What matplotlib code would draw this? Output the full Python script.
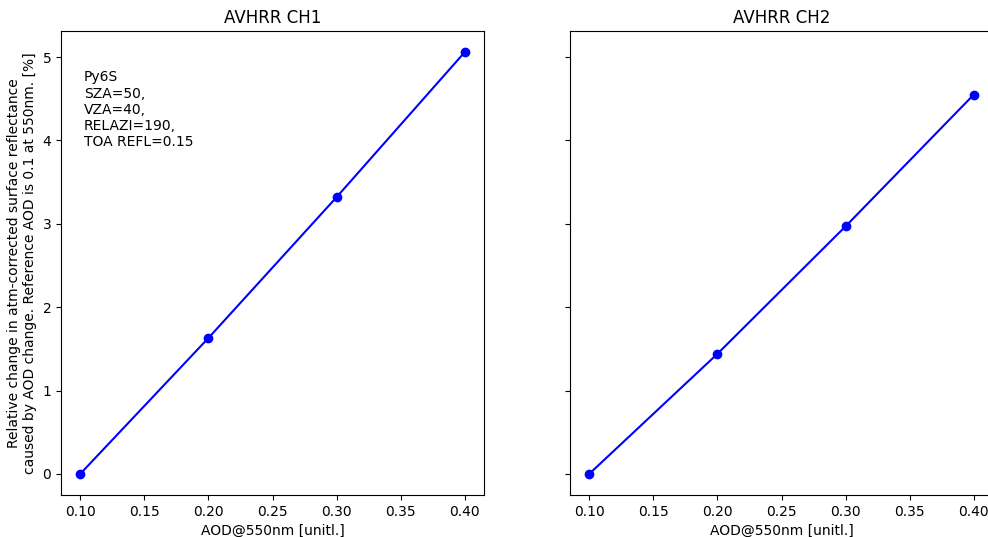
import matplotlib
matplotlib.use('Agg')
import matplotlib.pyplot as plt

aod = [0.1, 0.2, 0.3, 0.4]
ch1_change = [0.0, 1.63, 3.32, 5.06]
ch2_change = [0.0, 1.44, 2.97, 4.55]
titles = ['AVHRR CH1', 'AVHRR CH2']
info_text = 'Py6S\nSZA=50,\nVZA=40,\nRELAZI=190,\nTOA REFL=0.15'

fig = plt.figure(figsize=(9.88, 5.37), dpi=100)
ax1 = fig.add_axes([61 / 988, 42 / 537, 423 / 988, 464 / 537])
ax2 = fig.add_axes([570 / 988, 42 / 537, 423 / 988, 464 / 537], sharey=ax1)

for ax, vals, title in zip([ax1, ax2], [ch1_change, ch2_change], titles):
    ax.plot(aod, vals, 'o-', color='blue')
    ax.set_title(title)
    ax.set_xlabel('AOD@550nm [unitl.]')
    ax.set_xticks([0.10, 0.15, 0.20, 0.25, 0.30, 0.35, 0.40])
    ax.set_xticklabels(['0.10', '0.15', '0.20', '0.25', '0.30', '0.35', '0.40'])

ax2.tick_params(labelleft=False)
# right edge of the second panel is cut off in the original picture
ax2.spines['right'].set_visible(False)
ax1.set_ylabel('Relative change in atm-corrected surface reflectance\n'
               'caused by AOD change. Reference AOD is 0.1 at 550nm. [%]')
ax1.text(0.054, 0.915, info_text, transform=ax1.transAxes, va='top', ha='left')

fig.savefig('out.png', dpi=100)
